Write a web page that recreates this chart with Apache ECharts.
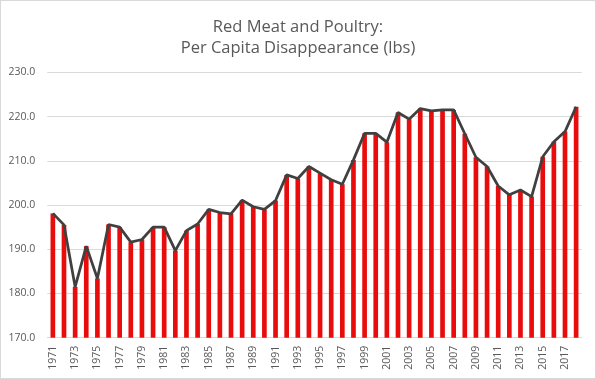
<!DOCTYPE html>
<html>
<head>
<meta charset="utf-8">
<script src="https://cdn.jsdelivr.net/npm/echarts@6/dist/echarts.min.js"></script>
<style>
html,body{margin:0;padding:0;background:#fff;}
#c{width:596px;height:379px;box-sizing:border-box;border:1px solid #d9d9d9;}
</style>
</head>
<body>
<div id="c"></div>
<script>
const years = [];
for (let y = 1971; y <= 2018; y++) years.push(String(y));
const values = [
  198.1, 195.5, 181.5, 190.7, 183.4, 195.6, 195.0, 191.6, 192.2, 195.0,
  195.0, 189.7, 194.2, 195.7, 199.0, 198.3, 198.0, 201.1, 199.6, 199.0,
  201.0, 206.8, 206.0, 208.7, 207.2, 205.7, 204.7, 210.2, 216.2, 216.2,
  214.2, 220.9, 219.4, 221.8, 221.3, 221.5, 221.5, 216.1, 210.8, 208.7,
  204.3, 202.3, 203.4, 201.9, 210.9, 214.3, 216.6, 222.2
];
const yTicks = { min: 170, max: 230, interval: 10 };

const chart = echarts.init(document.getElementById('c'), null, { renderer: 'canvas' });
chart.setOption({
  animation: false,
  title: {
    text: 'Red Meat and Poultry:\nPer Capita Disappearance (lbs)',
    left: 'center',
    top: 11,
    textStyle: { fontFamily: 'Open Sans', fontSize: 16.5, fontWeight: 'normal', color: '#595959', lineHeight: 21 }
  },
  grid: { left: 46.3, right: 13.3, top: 71.3, bottom: 40.3, containLabel: false },
  xAxis: {
    type: 'category',
    data: years,
    boundaryGap: true,
    axisLine: { show: true, lineStyle: { color: '#d9d9d9', width: 1 } },
    axisTick: { show: false },
    axisLabel: {
      interval: 1, rotate: 90, margin: 8,
      fontFamily: 'Open Sans', fontSize: 10.5, color: '#595959'
    },
    splitLine: { show: false }
  },
  yAxis: {
    type: 'value',
    min: yTicks.min, max: yTicks.max, interval: yTicks.interval,
    axisLine: { show: false },
    axisTick: { show: false },
    axisLabel: {
      margin: 12, fontFamily: 'Open Sans', fontSize: 10.5, color: '#595959',
      formatter: v => v.toFixed(1)
    },
    splitLine: { lineStyle: { color: '#d9d9d9', width: 1 } }
  },
  series: [
    {
      type: 'bar',
      data: values,
      barWidth: '42%',
      itemStyle: { color: '#e80c0c' },
      z: 2
    },
    {
      type: 'line',
      data: values,
      symbol: 'none',
      lineStyle: { color: '#404040', width: 2.75 },
      z: 3
    }
  ]
});
</script>
</body>
</html>
